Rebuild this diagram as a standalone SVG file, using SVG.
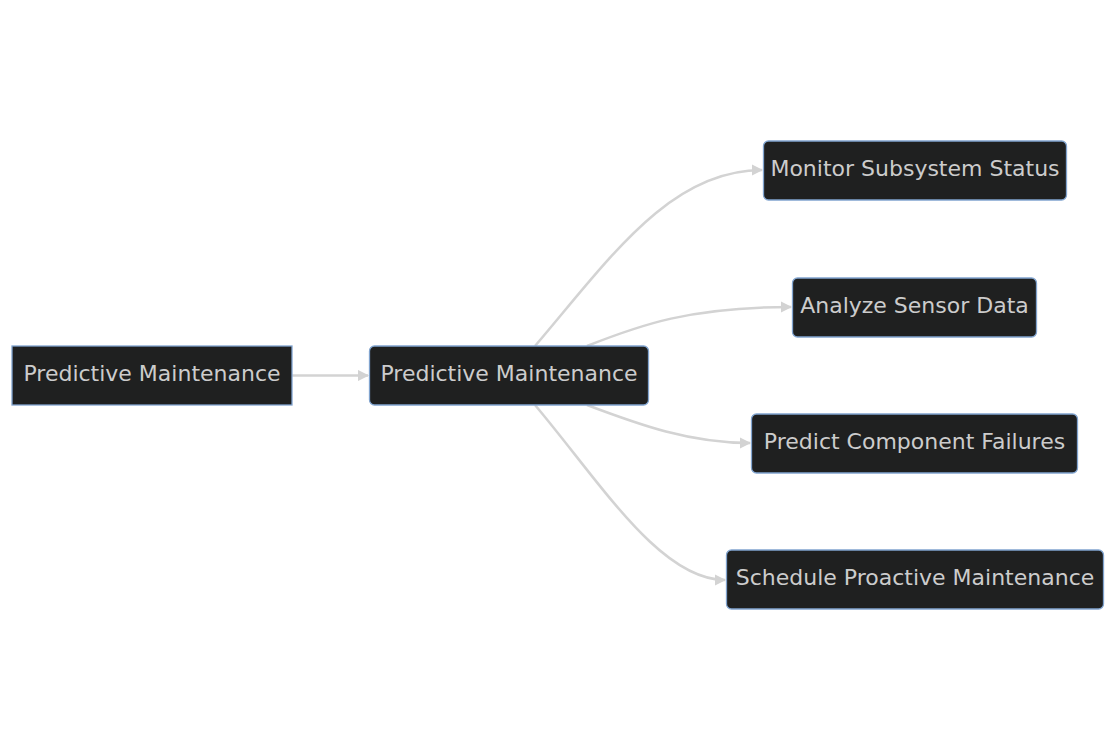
<svg xmlns="http://www.w3.org/2000/svg" width="1116" height="751" viewBox="0 0 1116 751">
<style>
.node rect{fill:#1f2020;stroke:#81a4cf;stroke-width:1.3}
.node text{fill:#cccccc;font-family:"DejaVu Sans",sans-serif;font-size:22px;text-anchor:middle;dominant-baseline:central}
.edge{fill:none;stroke:#d3d3d3;stroke-width:2.5}
</style>
<defs>
<marker id="arr" viewBox="0 0 10 10" refX="9" refY="5" markerWidth="4.5" markerHeight="4.5" markerUnits="strokeWidth" orient="auto">
<path d="M0,0 L10,5 L0,10 z" fill="#d3d3d3"/>
</marker>
</defs>
<rect width="1116" height="751" fill="#ffffff"/>
<g id="connectors">
<path class="edge" d="M292,375.5 L368,375.5" marker-end="url(#arr)"/>
<path class="edge" d="M535,346 C610,258 670,170 762,170" marker-end="url(#arr)"/>
<path class="edge" d="M587,346 C640,325 690,307 791,307" marker-end="url(#arr)"/>
<path class="edge" d="M587,405 C640,425 690,443 750,443" marker-end="url(#arr)"/>
<path class="edge" d="M535,405 C600,482 660,580 725,580" marker-end="url(#arr)"/>
</g>
<g id="nodeA" class="node"><rect x="12" y="346" width="280" height="59"/><text x="152" y="373">Predictive Maintenance</text></g>
<g id="nodeB" class="node"><rect x="369.5" y="346" width="279" height="59" rx="5"/><text x="509" y="373">Predictive Maintenance</text></g>
<g id="nodeC" class="node"><rect x="763.5" y="141" width="303" height="59" rx="5"/><text x="915" y="168">Monitor Subsystem Status</text></g>
<g id="nodeD" class="node"><rect x="792.5" y="278" width="244" height="59" rx="5"/><text x="914.5" y="305">Analyze Sensor Data</text></g>
<g id="nodeE" class="node"><rect x="751.5" y="414" width="326" height="59" rx="5"/><text x="914.5" y="441">Predict Component Failures</text></g>
<g id="nodeF" class="node"><rect x="726.5" y="550" width="377" height="59" rx="5"/><text x="915" y="577">Schedule Proactive Maintenance</text></g>
</svg>
